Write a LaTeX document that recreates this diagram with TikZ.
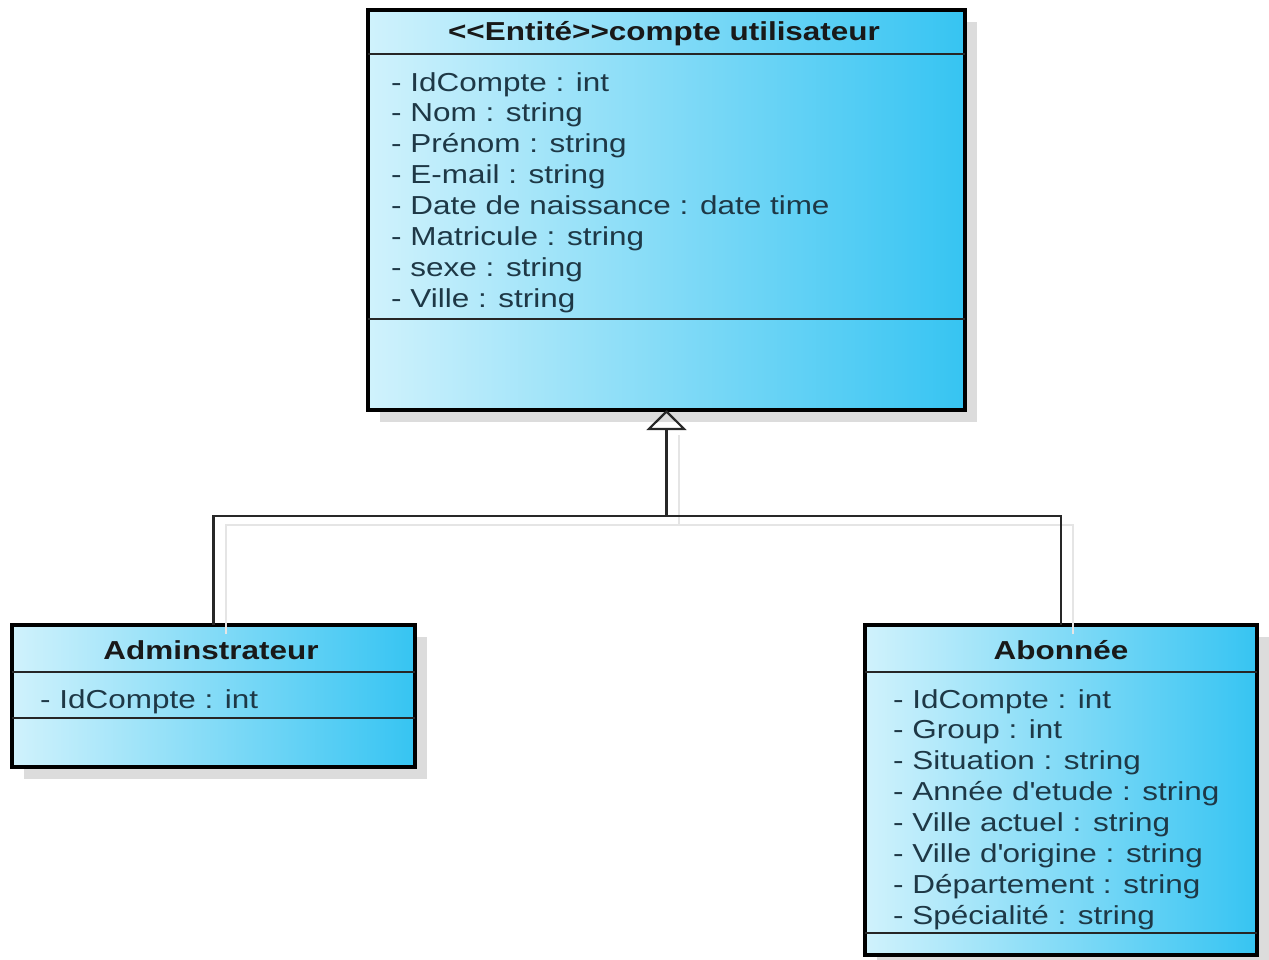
\documentclass[tikz,border=0pt]{standalone}
\usepackage{fontspec}
\setmainfont{Liberation Sans}[FakeStretch=1.21]
\usetikzlibrary{arrows.meta,shadows}

\definecolor{boxlight}{RGB}{208,242,252}
\definecolor{boxdark}{RGB}{54,196,242}
\definecolor{attrtext}{RGB}{30,56,70}
\definecolor{shadowgray}{RGB}{220,220,220}
\definecolor{linkgray}{RGB}{40,40,40}

\begin{document}
\begin{tikzpicture}[x=1pt,y=-1pt,
  classbox/.style={draw=black, line width=4pt, left color=boxlight, right color=boxdark,
    inner sep=0pt, outer sep=0pt,
    drop shadow={shadow xshift=12pt, shadow yshift=-12pt, fill=shadowgray, opacity=1}},
  sepline/.style={draw=black!85, line width=2pt},
  classtitle/.style={anchor=base, inner sep=0pt, text=black!90,
    font=\fontsize{26}{31}\selectfont\bfseries},
  attrs/.style={anchor=north west, inner sep=0pt, align=left, text=attrtext,
    font=\fontsize{26}{30.9}\selectfont},
  gen/.style={draw=linkgray, line width=2.8pt,
    -{Triangle[open, width=40pt, length=20pt, line width=2.2pt]}},
  link/.style={draw=linkgray, line width=2.8pt},
  linkshadow/.style={draw=black!10, line width=2pt}]

\useasboundingbox (0,0) rectangle (1269,960);

% class boxes
\node[classbox, minimum width=597pt, minimum height=400pt] (compte) at (666.5,210) {};
\node[classbox, minimum width=403pt, minimum height=142pt] (adm) at (213.5,696) {};
\node[classbox, minimum width=392pt, minimum height=330pt] (abo) at (1061,790) {};

% compartment separators
\draw[sepline] (compte.west |- 0,54) -- (compte.east |- 0,54);
\draw[sepline] (compte.west |- 0,319) -- (compte.east |- 0,319);
\draw[sepline] (adm.west |- 0,672) -- (adm.east |- 0,672);
\draw[sepline] (adm.west |- 0,718) -- (adm.east |- 0,718);
\draw[sepline] (abo.west |- 0,672) -- (abo.east |- 0,672);
\draw[sepline] (abo.west |- 0,933) -- (abo.east |- 0,933);

% class names
\node[classtitle] (compteT) at (664,41) {<\kern0pt<Entité>\kern0pt>compte utilisateur};
\node[classtitle] (admT) at (211,659) {Adminstrateur};
\node[classtitle] (aboT) at (1061,659) {Abonnée};

% attributes
\node[attrs] (compteA) at (391,72) {- IdCompte : int\\- Nom : string\\- Prénom : string\\- E-mail : string\\- Date de naissance : date time\\- Matricule : string\\- sexe : string\\- Ville : string};
\node[attrs] (admA) at (40,689) {- IdCompte : int};
\node[attrs] (aboA) at (893,689) {- IdCompte : int\\- Group : int\\- Situation : string\\- Année d\textquotesingle etude : string\\- Ville actuel : string\\- Ville d\textquotesingle origine : string\\- Département : string\\- Spécialité : string};

% generalisation towards the parent class
\coordinate (j) at (666.5,516);
\draw[linkshadow, transform canvas={shift={(12pt,-9pt)}}] (adm.north) |- (j) -- ([yshift=-16pt]compte.south);
\draw[linkshadow, transform canvas={shift={(12pt,-9pt)}}] (abo.north) |- (j);
\draw[gen] (adm.north) |- (j) -- (compte.south);
\draw[link] (abo.north) |- (j);
\end{tikzpicture}
\end{document}
